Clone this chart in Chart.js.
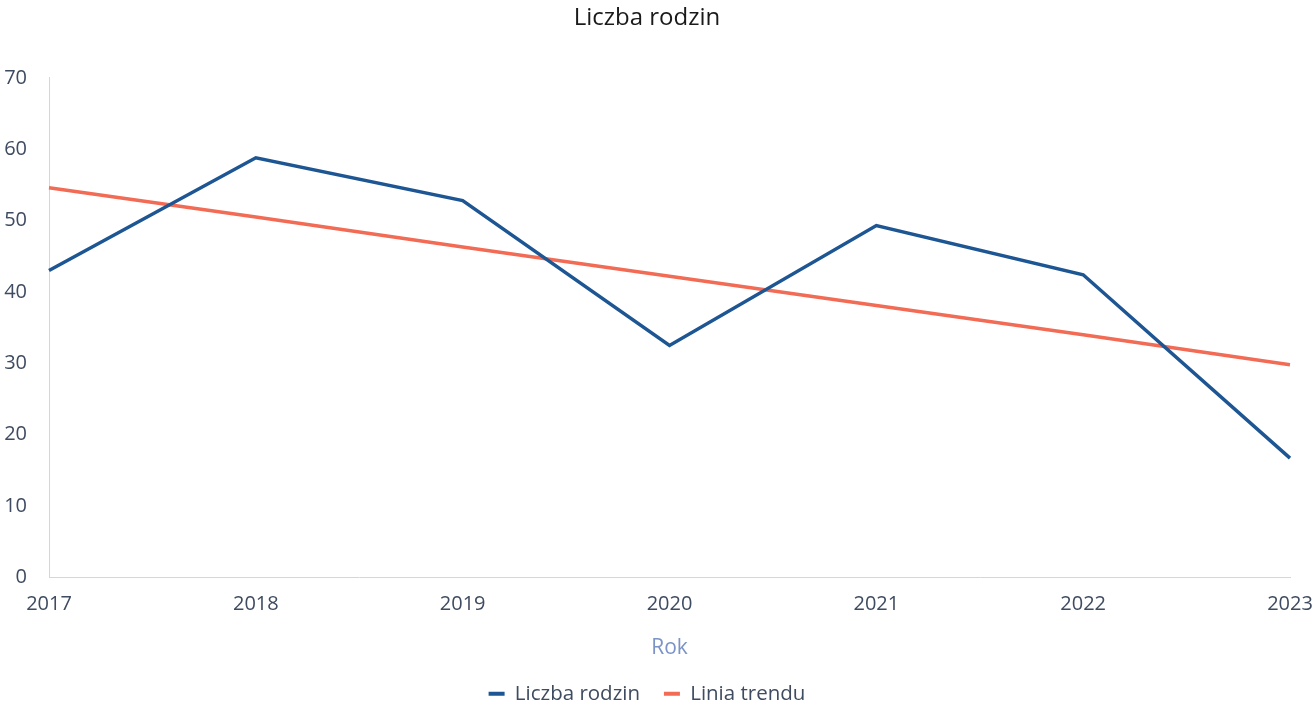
<!DOCTYPE html>
<html>
<head>
<meta charset="utf-8">
<script src="https://cdn.jsdelivr.net/npm/chart.js@4"></script>
<style>
  html, body { margin: 0; padding: 0; background: #fff; }
  #wrap { width: 1315px; height: 709px; position: relative; }
</style>
</head>
<body>
<div id="wrap"><canvas id="chart"></canvas></div>
<script>
const years = ['2017', '2018', '2019', '2020', '2021', '2022', '2023'];
const familyCounts = [43, 58.8, 52.8, 32.5, 49.3, 42.4, 16.7];
const trendValues = [54.6, 50.5, 46.3, 42.2, 38.1, 34.0, 29.8];
const yTicks = [0, 10, 20, 30, 40, 50, 60, 70];

const tickColor = '#3e4b60';
const axisLine = '#c9d8ec';
const font = "'Open Sans', sans-serif";

// legend padding also sets the vertical room, so widen the gap with spaces
const legendGap = ['\u2002\u2002\u2009', ''];

new Chart(document.getElementById('chart'), {
  type: 'line',
  data: {
    labels: years,
    datasets: [
      {
        label: 'Liczba rodzin',
        data: familyCounts,
        borderColor: '#1d5693',
        backgroundColor: '#1d5693',
        borderWidth: 3.5,
        pointRadius: 0,
        tension: 0
      },
      {
        label: 'Linia trendu',
        data: trendValues,
        borderColor: '#f26b55',
        backgroundColor: '#f26b55',
        borderWidth: 3.5,
        pointRadius: 0,
        tension: 0
      }
    ]
  },
  options: {
    responsive: true,
    maintainAspectRatio: false,
    animation: false,
    layout: { padding: { left: 4, right: 25, top: 0, bottom: -5 } },
    plugins: {
      title: {
        display: true,
        text: 'Liczba rodzin',
        color: '#1a1a1a',
        font: { family: font, size: 24, weight: 'normal' },
        padding: { top: 4, bottom: 45 }
      },
      legend: {
        position: 'bottom',
        labels: {
          color: tickColor,
          font: { family: font, size: 20.5 },
          boxWidth: 16,
          boxHeight: 4,
          padding: 0,
          generateLabels(chart) {
            return chart.data.datasets.map((ds, i) => ({
              text: ds.label + legendGap[i],
              fillStyle: ds.borderColor,
              strokeStyle: ds.borderColor,
              lineWidth: 0,
              fontColor: tickColor,
              datasetIndex: i,
              hidden: !chart.isDatasetVisible(i)
            }));
          }
        }
      },
      tooltip: { enabled: false }
    },
    scales: {
      x: {
        offset: false,
        grid: { display: false },
        border: { display: true, color: axisLine, width: 1 },
        afterFit(scale) {
          scale.paddingRight = 0;
          scale.paddingLeft = 0;
        },
        ticks: {
          color: tickColor,
          font: { family: font, size: 20 },
          padding: 7,
          maxRotation: 0,
          autoSkip: false
        },
        title: {
          display: true,
          text: 'Rok',
          color: '#7b93c6',
          font: { family: font, size: 21 },
          padding: { top: 12, bottom: 23 }
        }
      },
      y: {
        min: 0,
        max: 70,
        grid: { display: false },
        border: { display: true, color: axisLine, width: 1 },
        afterBuildTicks(scale) {
          scale.ticks = yTicks.map(v => ({ value: v }));
        },
        afterFit(scale) {
          scale.width = 45;
        },
        ticks: {
          color: tickColor,
          font: { family: font, size: 20 },
          padding: 14
        }
      }
    }
  }
});
</script>
</body>
</html>
